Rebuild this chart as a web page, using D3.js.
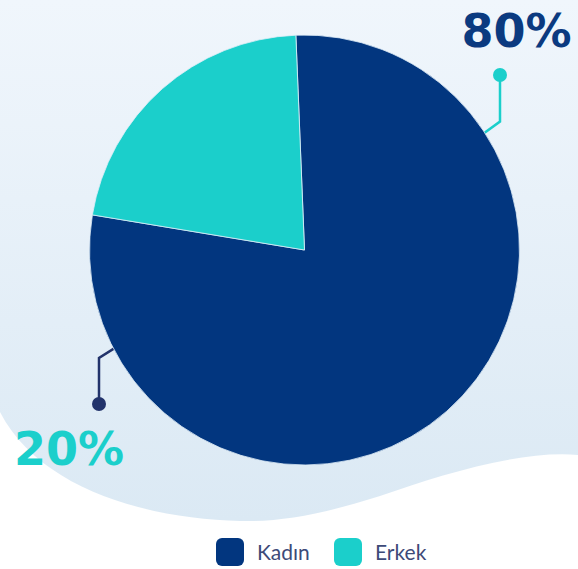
<!DOCTYPE html>
<html>
<head>
<meta charset="utf-8">
<script src="https://cdn.jsdelivr.net/npm/d3@7"></script>
<style>
  html, body { margin: 0; padding: 0; background: #ffffff; }
  svg { display: block; }
</style>
</head>
<body>
<div id="chart"></div>
<script>
// ---- data ----
const categories = ["Kadın", "Erkek"];
const values = [78.25, 21.75];
const labels = ["80%", "20%"];
const colors = ["#02367f", "#1bcfcb"];

const W = 578, H = 569;
const cx = 304.5, cy = 250, R = 215;
const deg = Math.PI / 180;

const svg = d3.select("#chart").append("svg")
  .attr("width", W).attr("height", H);

// background wave with gradient
const defs = svg.append("defs");
const grad = defs.append("linearGradient").attr("id", "bg")
  .attr("x1", 0).attr("y1", 0).attr("x2", 0).attr("y2", 1);
grad.append("stop").attr("offset", "0%").attr("stop-color", "#f0f6fc");
grad.append("stop").attr("offset", "100%").attr("stop-color", "#dbe9f4");

const wave = d3.path();
wave.moveTo(0, 0);
wave.lineTo(W, 0);
wave.lineTo(W, 455);
wave.bezierCurveTo(520, 450, 440, 475, 380, 496);
wave.bezierCurveTo(320, 515, 280, 522, 240, 521);
wave.bezierCurveTo(150, 519, 40, 490, 0, 412);
wave.closePath();
svg.append("path").attr("d", wave.toString()).attr("fill", "url(#bg)");

// leader lines (drawn under the pie)
const leaders = [
  { angle: 57, elbow: [500, 121.5], dot: [500, 75], color: colors[1] },
  { angle: 242.8, elbow: [99, 358], dot: [99, 404], color: "#22336b" }
];
const lg = svg.append("g");
leaders.forEach(l => {
  const ex = cx + R * Math.sin(l.angle * deg) * 0.97;
  const ey = cy - R * Math.cos(l.angle * deg) * 0.97;
  lg.append("path")
    .attr("d", d3.line()([[ex, ey], l.elbow, l.dot]))
    .attr("fill", "none").attr("stroke", l.color).attr("stroke-width", 2.5);
  lg.append("circle").attr("cx", l.dot[0]).attr("cy", l.dot[1]).attr("r", 7)
    .attr("fill", l.color);
});

// pie
const pie = d3.pie().sort(null).value(d => d)
  .startAngle(-2.3 * deg).endAngle((360 - 2.3) * deg);
const arc = d3.arc().innerRadius(0).outerRadius(R);
svg.append("g").attr("transform", `translate(${cx},${cy})`)
  .selectAll("path").data(pie(values)).join("path")
  .attr("d", arc)
  .attr("fill", (d, i) => colors[i])
  .attr("stroke", "#dfeef8").attr("stroke-width", 0.8);

// percentage labels
const labelPos = [
  { x: 516.5, y: 47, color: "#0b3a80" },
  { x: 69, y: 465, color: colors[1] }
];
svg.append("g").selectAll("text").data(labels).join("text")
  .attr("x", (d, i) => labelPos[i].x)
  .attr("y", (d, i) => labelPos[i].y)
  .attr("text-anchor", "middle")
  .attr("font-family", "'DejaVu Sans', sans-serif")
  .attr("font-weight", 700)
  .attr("font-size", 46)
  .attr("fill", (d, i) => labelPos[i].color)
  .text(d => d);

// legend
const legendX = [216, 334];
const leg = svg.append("g").selectAll("g").data(categories).join("g")
  .attr("transform", (d, i) => `translate(${legendX[i]},538)`);
leg.append("rect").attr("width", 28).attr("height", 28).attr("rx", 6)
  .attr("fill", (d, i) => colors[i]);
leg.append("text").attr("x", 41).attr("y", 22)
  .attr("font-family", "Lato, 'Open Sans', sans-serif")
  .attr("font-size", 21)
  .attr("fill", "#3d4a78")
  .text(d => d);
</script>
</body>
</html>
